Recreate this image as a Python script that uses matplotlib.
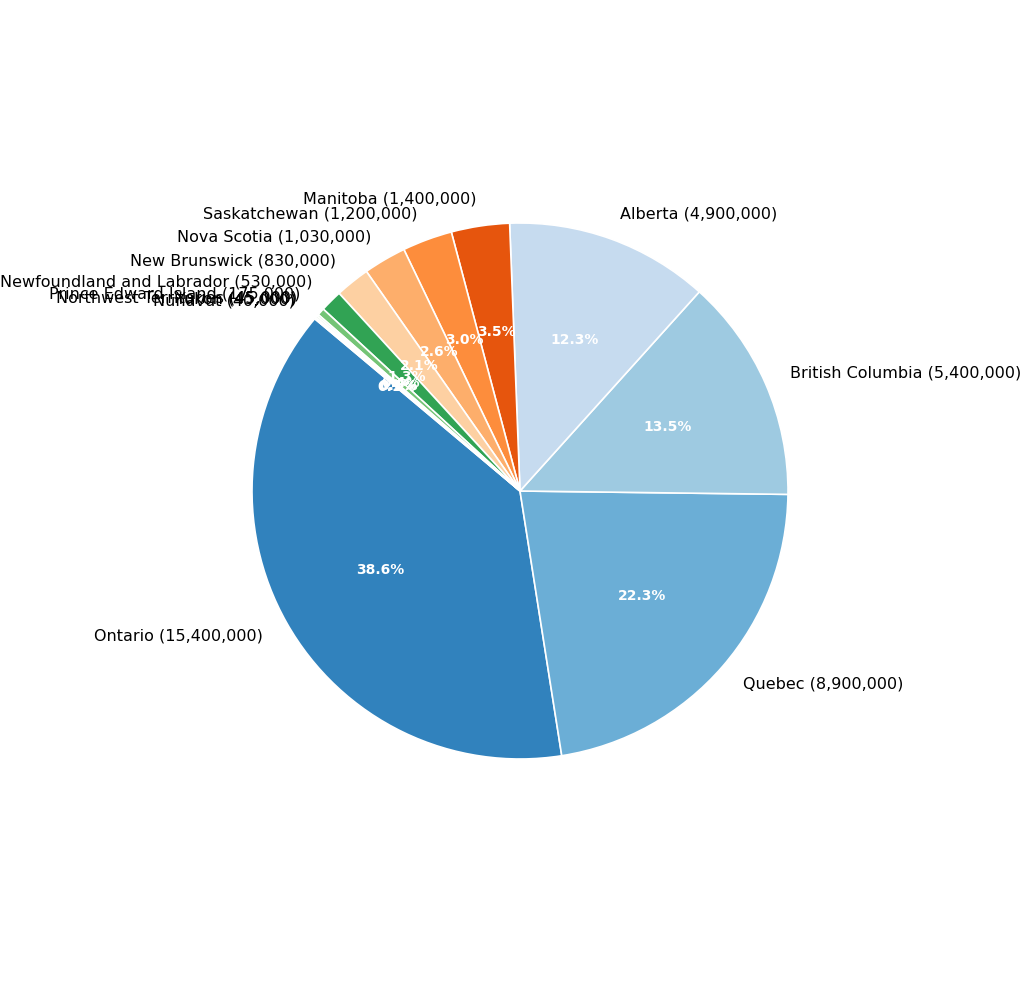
import matplotlib
matplotlib.use("Agg")
import matplotlib.pyplot as plt

provinces = ["Ontario", "Quebec", "British Columbia", "Alberta", "Manitoba", "Saskatchewan",
             "Nova Scotia", "New Brunswick", "Newfoundland and Labrador", "Prince Edward Island",
             "Northwest Territories", "Yukon", "Nunavut"]
population = [15400000, 8900000, 5400000, 4900000, 1400000, 1200000,
              1030000, 830000, 530000, 175000, 45000, 45000, 40000]
colors = ["#3182bd", "#6baed6", "#9ecae1", "#c6dbef", "#e6550d", "#fd8d3c",
          "#fdae6b", "#fdd0a2", "#31a354", "#74c476", "#a1d99b", "#c7e9c0", "#756bb1"]

labels = [f"{p} ({v:,})" for p, v in zip(provinces, population)]

fig = plt.figure(figsize=(10.24, 9.84), dpi=100)
r = 268
ax = fig.add_axes([(520 - r) / 1024, 1 - (491 + r) / 984, 2 * r / 1024, 2 * r / 984])
wedges, texts, autotexts = ax.pie(population, labels=labels, colors=colors, startangle=140,
                                  autopct="%1.1f%%", pctdistance=0.6, labeldistance=1.1,
                                  wedgeprops=dict(edgecolor="white", linewidth=1.2),
                                  textprops=dict(fontsize=11.5))
for t in autotexts:
    t.set_color("white")
    t.set_fontweight("bold")
    t.set_fontsize(10)
ax.set_xlim(-1, 1)
ax.set_ylim(-1, 1)
ax.set_aspect("equal")
fig.savefig("out.png", dpi=100)
